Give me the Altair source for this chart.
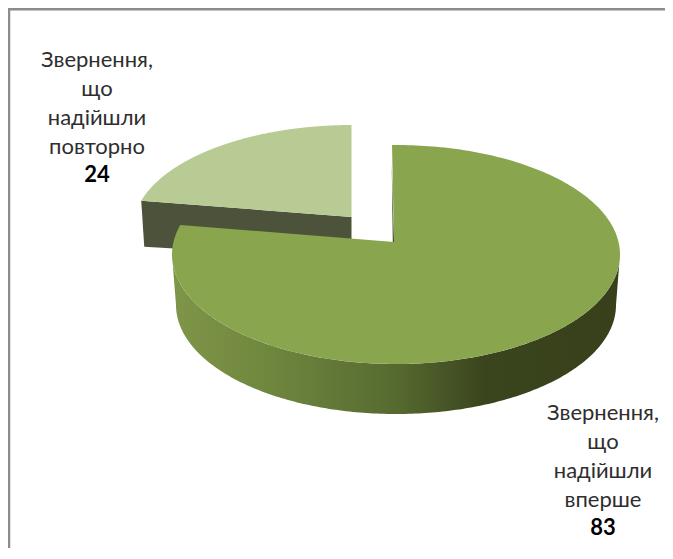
import numpy as np
import altair as alt

# Data
categories = ["Звернення, що надійшли вперше", "Звернення, що надійшли повторно"]
values = [83, 24]
label_lines_big = ["Звернення,", "що", "надійшли", "вперше"]
label_lines_small = ["Звернення,", "що", "надійшли", "повторно"]

W, H = 657, 540
OFF = 8  # page margin; geometry below is worked out in page pixels

TOP_BIG = "#89a54e"
TOP_SMALL = "#b9cb94"
SIDE_SMALL = "#4d533a"


def ring(points):
    pts = [[float(x) - OFF, float(y) - OFF] for x, y in points]
    pts.append(pts[0])
    return pts


def feature(points):
    return {"type": "Feature", "properties": {},
            "geometry": {"type": "Polygon", "coordinates": [ring(points)]}}


def edge(theta, apex, c, a, b):
    """Point of the rim seen from the apex in the direction of pie angle theta."""
    px, py = (apex[0] - c[0]) / a, (apex[1] - c[1]) / b
    dx, dy = np.sin(theta), -np.cos(theta)
    pd = px * dx + py * dy
    t = -pd + np.sqrt(pd * pd - (px * px + py * py) + 1)
    return (c[0] + a * (px + t * dx), c[1] + b * (py + t * dy))


def sector(start, end, apex, c, a, b):
    thetas = np.linspace(start, end, 240)
    return [apex] + [edge(t, apex, c, a, b) for t in thetas]


total = sum(values)
split = 2 * np.pi * values[0] / total

# big slice
big_c, big_a, big_b, big_apex = (396, 254.5), 224, 109.5, (394, 242)
big_top = sector(-0.01, split, big_apex, big_c, big_a, big_b)

# wall under the big slice
low_c, low_a, low_b = (396, 305), 220, 109
ts = np.linspace(-np.pi / 2, np.pi / 2, 200)
upper = [(big_c[0] + big_a * np.sin(t), big_c[1] + big_b * np.cos(t)) for t in ts]
lower = [(low_c[0] + low_a * np.sin(t), low_c[1] + low_b * np.cos(t)) for t in ts[::-1]]
big_wall = upper + lower

# sliver of the cut face seen beside the vertical edge of the big slice
cut_rim = big_top[1]
cut_face = [(cut_rim[0] - 0.3, cut_rim[1] + 18), (big_apex[0] - 1.2, big_apex[1]), big_apex]

# exploded small slice
sm_c, sm_a, sm_b, sm_apex = (352, 229), 219, 104, (351.5, 217)
small_top = sector(split, 2 * np.pi, sm_apex, sm_c, sm_a, sm_b)
sm_left = small_top[1]
small_wall = [sm_left, sm_apex, (sm_apex[0], sm_apex[1] + 42), (sm_left[0] + 3, sm_left[1] + 46)]

proj = alt.Projection(type="identity", scale=1, translate=[0, 0])


def shape(points, fill):
    return alt.Chart(alt.Data(values=[feature(points)])).mark_geoshape(
        fill=fill, stroke=None, strokeWidth=0
    ).project(**proj.to_dict())


wall_fill = alt.Gradient(
    gradient="linear", x1=0, x2=1, y1=0, y2=0,
    stops=[
        alt.GradientStop(offset=0.0, color="#7f9548"),
        alt.GradientStop(offset=0.22, color="#6f863e"),
        alt.GradientStop(offset=0.5, color="#566a30"),
        alt.GradientStop(offset=0.7, color="#3a441d"),
        alt.GradientStop(offset=1.0, color="#37401a"),
    ],
)

layers = [
    shape(small_wall, SIDE_SMALL),
    shape(small_top, TOP_SMALL),
    shape(big_wall, wall_fill),
    shape(cut_face, "#3a441d"),
    shape(big_top, TOP_BIG),
]

# frame
frame_color = "#8c8c8c"
layers.append(
    alt.Chart(alt.Data(values=[{"a": 0}])).mark_rule(color=frame_color, strokeWidth=2.5)
    .encode(x=alt.value(0), x2=alt.value(W), y=alt.value(1.2))
)
layers.append(
    alt.Chart(alt.Data(values=[{"a": 0}])).mark_rule(color=frame_color, strokeWidth=2.5)
    .encode(x=alt.value(1), y=alt.value(0), y2=alt.value(H))
)


def label_rows(lines, value, cx, first_baseline, step):
    rows = [{"t": s, "x": cx - OFF, "y": first_baseline + i * step - OFF, "w": "normal"}
            for i, s in enumerate(lines)]
    rows.append({"t": str(value), "x": cx - OFF,
                 "y": first_baseline + len(lines) * step - 1 - OFF, "w": "bold"})
    return rows


rows = label_rows(label_lines_small, values[1], 97, 67, 29) + label_rows(label_lines_big, values[0], 603, 420, 29)

for weight, color in (("normal", "#2e2e2e"), ("bold", "#000000")):
    layers.append(
        alt.Chart(alt.Data(values=[r for r in rows if r["w"] == weight]))
        .mark_text(font="Lato", fontSize=22, fontWeight=weight, align="center",
                   baseline="alphabetic", color=color)
        .encode(x=alt.X("x:Q", scale=None), y=alt.Y("y:Q", scale=None), text="t:N")
    )

chart = alt.layer(*layers).properties(
    width=W, height=H, padding=0,
    autosize=alt.AutoSizeParams(type="none"),
).configure_view(stroke=None)

chart.save("out.html", embed_options={"renderer": "svg", "actions": False})
